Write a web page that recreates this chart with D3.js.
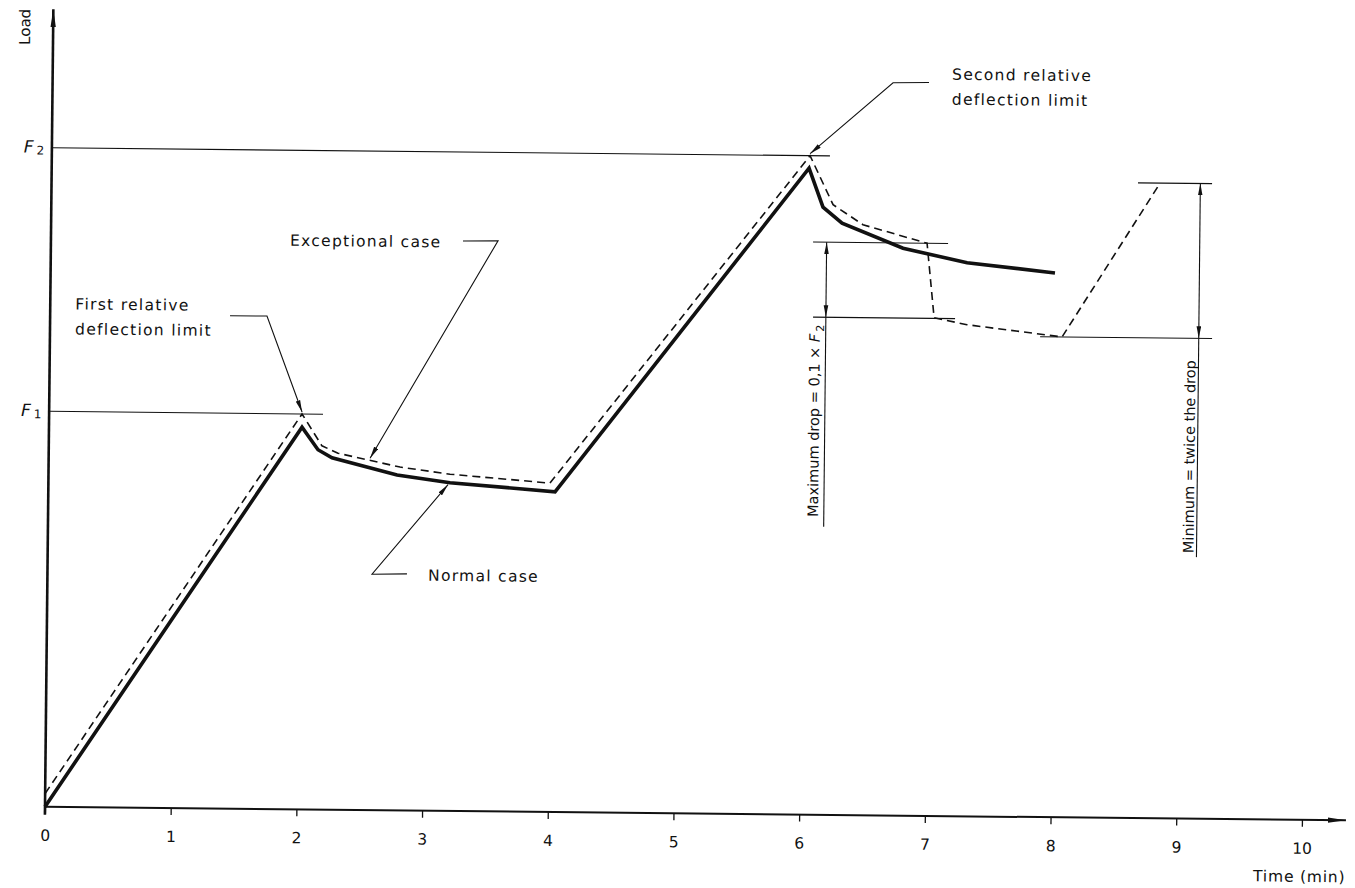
<!DOCTYPE html>
<html>
<head>
<meta charset="utf-8">
<script src="https://cdn.jsdelivr.net/npm/d3@7"></script>
<style>
  body { margin: 0; background: #fff; }
  svg text { font-family: "DejaVu Sans", sans-serif; fill: #111; }
</style>
</head>
<body>
<div id="chart"></div>
<script>
// time in min, load in % of F2
const normalTime = [0, 2.013, 2.142, 2.254, 2.773, 3.195, 4.031, 6.025, 6.139, 6.292, 6.779, 7.290, 7.990];
const normalLoad = [0, 58.0, 54.6, 53.4, 50.9, 49.8, 48.6, 98.1, 92.2, 89.8, 86.1, 84.0, 82.6];
const exceptTime = [0, 2.012, 2.173, 2.301, 2.796, 3.194, 3.990, 6.032, 6.219, 6.459, 6.970, 7.032, 7.294, 8.052, 8.819];
const exceptLoad = [2.0, 60, 55.2, 54.1, 52.1, 51.1, 49.9, 100, 92.6, 89.6, 86.9, 75.6, 74.6, 72.9, 96.4];

const timeTicks = [0, 1, 2, 3, 4, 5, 6, 7, 8, 9, 10];
const F1 = 60, F2 = 100;

// reference lines [t0, t1, load]
const refLines = [
  [0, 2.179, F1], [0, 6.19, F2],
  [6.063, 7.137, 86.9], [6.069, 7.199, 75.5],
  [8.643, 9.232, 96.4], [7.877, 9.245, 72.9]
];
// dimension lines [t, top, bottom, tail end]
const dims = [[6.171, 86.9, 75.5, 43.7], [9.139, 96.4, 72.9, 39.7]];
const dimText = ["Maximum drop = 0,1 × ", "Minimum = twice the drop"];
const dimTextAt = [[6.125, 45.2], [9.115, 40.3]];

// leaders: tip, knee, end of the horizontal, text
const leaderTip = [[2.012, 60.3], [2.557, 53.4], [3.179, 49.5], [6.032, 100.3]];
const leaderKnee = [[1.725, 74.8], [3.557, 86.6], [2.582, 35.8], [6.686, 111.2]];
const leaderEnd = [[1.431, 74.8], [3.278, 86.5], [2.860, 35.9], [6.972, 111.3]];
const noteText = [["First relative", "deflection limit"], ["Exceptional case"], ["Normal case"], ["Second relative", "deflection limit"]];
const noteAt = [[0.2, 75.5], [1.902, 85.5], [3.028, 34.9], [7.155, 111.75]];

const W = 1355, H = 888;
const svg = d3.select('#chart').append('svg')
  .attr('width', W).attr('height', H)
  .style('background', '#fff');

const defs = svg.append('defs');
function marker(id, len, half) {
  defs.append('marker')
    .attr('id', id)
    .attr('viewBox', `0 0 ${len} ${half * 2}`)
    .attr('refX', len).attr('refY', half)
    .attr('markerWidth', len).attr('markerHeight', half * 2)
    .attr('markerUnits', 'userSpaceOnUse')
    .attr('orient', 'auto-start-reverse')
    .append('path')
    .attr('d', `M0,0.3 L${len},${half} L0,${half * 2 - 0.3} Z`)
    .attr('fill', '#111');
}
marker('arr', 12, 2.6);
marker('axarr', 18, 3);

const x = d3.scaleLinear().domain([0, 10]).range([0, 1257]);
const y = d3.scaleLinear().domain([0, 100]).range([0, -659]);

// the scanned drawing sits a little skewed
const g = svg.append('g').attr('transform', 'translate(45,806.7) rotate(0.6)');

// axes
const xAxis = d3.axisBottom(x).tickValues(timeTicks).tickSize(7).tickPadding(16).tickSizeOuter(0);
const ax = g.append('g').call(xAxis);
ax.select('.domain').remove();
ax.selectAll('line').attr('stroke', '#111').attr('stroke-width', 1.3);
ax.selectAll('text').attr('font-size', 15.5).attr('font-family', '"DejaVu Sans", sans-serif').attr('fill', '#111');

g.append('line')
  .attr('x1', x(0)).attr('y1', 0).attr('x2', x(10.35)).attr('y2', 0)
  .attr('stroke', '#111').attr('stroke-width', 2)
  .attr('marker-end', 'url(#axarr)');
g.append('line')
  .attr('x1', 0).attr('y1', 8).attr('x2', 0).attr('y2', y(121))
  .attr('stroke', '#111').attr('stroke-width', 2.6)
  .attr('marker-end', 'url(#axarr)');

g.append('text')
  .attr('x', x(10.35)).attr('y', 62)
  .attr('text-anchor', 'end')
  .attr('font-size', 15.5).attr('letter-spacing', 0.8)
  .text('Time (min)');
g.append('text')
  .attr('transform', `translate(-23,${y(118.3)}) rotate(-90)`)
  .attr('text-anchor', 'middle')
  .attr('font-size', 15)
  .text('Load');

// F1 / F2 labels
[[F1, '1'], [F2, '2']].forEach(([v, s]) => {
  const t = g.append('text')
    .attr('x', -28).attr('y', y(v) + 5)
    .attr('font-size', 17);
  t.append('tspan').attr('font-style', 'italic').text('F');
  t.append('tspan').attr('font-size', 12).attr('dx', 3).attr('dy', 2).text(s);
});

// reference lines
g.selectAll('.ref')
  .data(refLines)
  .enter().append('line')
  .attr('x1', d => x(d[0])).attr('x2', d => x(d[1]))
  .attr('y1', d => y(d[2])).attr('y2', d => y(d[2]))
  .attr('stroke', '#111').attr('stroke-width', 1.1);

// curves
const line = d3.line().x(d => x(d[0])).y(d => y(d[1]));
g.append('path')
  .datum(normalTime.map((t, i) => [t, normalLoad[i]]))
  .attr('d', line)
  .attr('fill', 'none').attr('stroke', '#111')
  .attr('stroke-width', 3.6).attr('stroke-linejoin', 'miter');
g.append('path')
  .datum(exceptTime.map((t, i) => [t, exceptLoad[i]]))
  .attr('d', line)
  .attr('fill', 'none').attr('stroke', '#111')
  .attr('stroke-width', 1.6).attr('stroke-dasharray', '8,5');

// dimension lines
dims.forEach(([t, top, bot, tail]) => {
  g.append('line')
    .attr('x1', x(t)).attr('x2', x(t))
    .attr('y1', y(top)).attr('y2', y(bot))
    .attr('stroke', '#111').attr('stroke-width', 1.1)
    .attr('marker-start', 'url(#arr)').attr('marker-end', 'url(#arr)');
  g.append('line')
    .attr('x1', x(t)).attr('x2', x(t))
    .attr('y1', y(bot)).attr('y2', y(tail))
    .attr('stroke', '#111').attr('stroke-width', 1.1);
});

dimText.forEach((s, i) => {
  const t = g.append('text')
    .attr('transform', `translate(${x(dimTextAt[i][0])},${y(dimTextAt[i][1])}) rotate(-90)`)
    .attr('font-size', 14.5);
  t.append('tspan').text(s);
  if (i === 0) {
    t.append('tspan').attr('font-style', 'italic').text('F');
    t.append('tspan').attr('font-size', 11).attr('dx', 2).attr('dy', 4).text('2');
  }
});

// leaders with text
noteText.forEach((lines, i) => {
  const pts = [leaderEnd[i], leaderKnee[i], leaderTip[i]];
  g.append('path')
    .attr('d', line(pts))
    .attr('fill', 'none').attr('stroke', '#111').attr('stroke-width', 1.1)
    .attr('marker-end', 'url(#arr)');
  const t = g.append('text')
    .attr('x', x(noteAt[i][0])).attr('y', y(noteAt[i][1]))
    .attr('font-size', 15.5).attr('letter-spacing', 1.3);
  lines.forEach((s, j) => {
    t.append('tspan')
      .attr('x', x(noteAt[i][0]))
      .attr('dy', j === 0 ? 0 : 25)
      .text(s);
  });
});
</script>
</body>
</html>
